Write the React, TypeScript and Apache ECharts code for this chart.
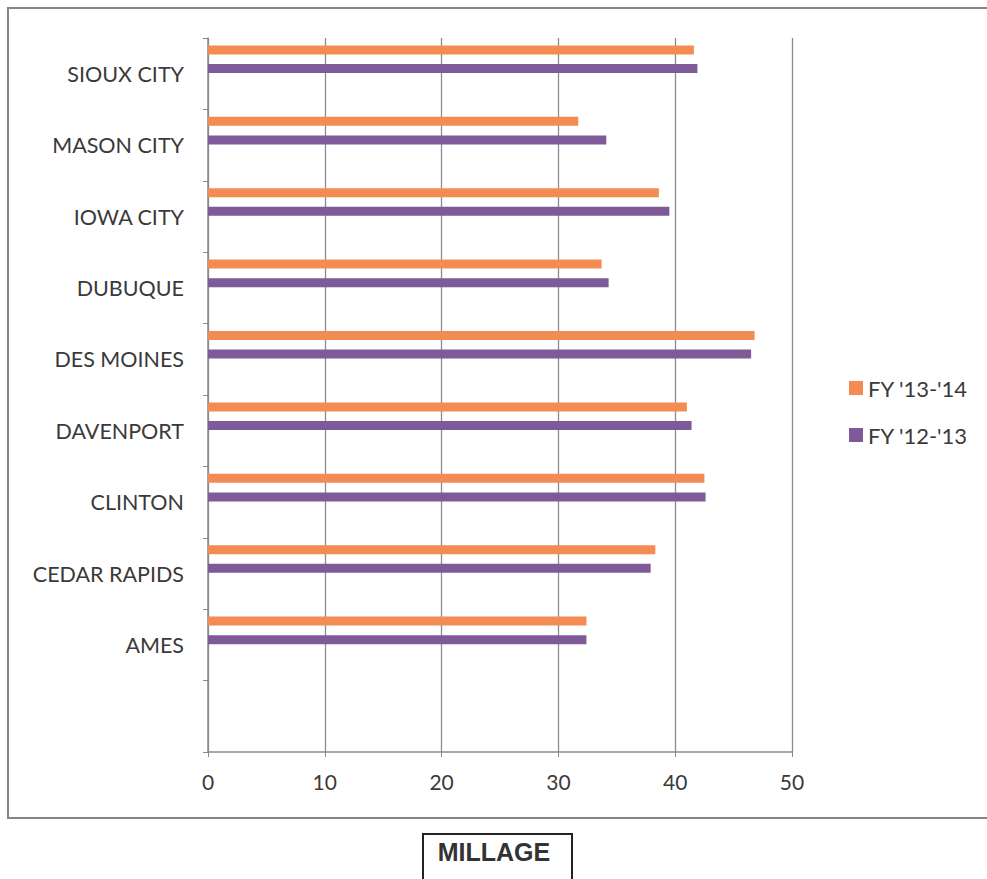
import React, { useEffect, useRef } from "react";
import * as echarts from "echarts";

const categories = ["", "AMES", "CEDAR RAPIDS", "CLINTON", "DAVENPORT", "DES MOINES", "DUBUQUE", "IOWA CITY", "MASON CITY", "SIOUX CITY"];
const fy1314 = [null, 32.4, 38.3, 42.5, 41.0, 46.8, 33.7, 38.6, 31.7, 41.6];
const fy1213 = [null, 32.4, 37.9, 42.6, 41.4, 46.5, 34.3, 39.5, 34.1, 41.9];
const seriesNames = ["FY '13-'14", "FY '12-'13"];
const axisTitle = "MILLAGE";

const ORANGE = "#F38B52";
const PURPLE = "#7E5A98";
const FONT = "Lato";

export default function App() {
  const ref = useRef<HTMLDivElement>(null);
  useEffect(() => {
    if (!ref.current) return;
    const chart = echarts.init(ref.current, null, { renderer: "svg" });
    chart.setOption({
      animation: false,
      backgroundColor: "#ffffff",
      legend: {
        data: seriesNames,
        orient: "vertical",
        left: 844,
        top: 372,
        itemWidth: 14,
        itemHeight: 14,
        itemGap: 25,
        icon: "rect",
        textStyle: { fontFamily: FONT, fontSize: 22, color: "#3a3a3a" },
      },
      grid: [
        { left: 208, right: 195, top: 38, bottom: 127 },
        { left: 208, right: 195, top: 23.5, bottom: 141.5 },
      ],
      xAxis: [
        {
          type: "value",
          gridIndex: 0,
          min: 0,
          max: 50,
          interval: 10,
          axisLine: { show: true, lineStyle: { color: "#8a8a8a", width: 1.5 } },
          axisTick: { show: true, length: 5, lineStyle: { color: "#8a8a8a" } },
          splitLine: { show: true, lineStyle: { color: "#8e8896", width: 1.3 } },
          axisLabel: { margin: 19, fontFamily: FONT, fontSize: 21, color: "#3a3a3a" },
        },
        {
          type: "value",
          gridIndex: 1,
          min: 0,
          max: 50,
          interval: 10,
          show: false,
        },
      ],
      yAxis: [
        {
          type: "category",
          gridIndex: 0,
          data: categories,
          axisLine: { show: true, lineStyle: { color: "#8a8a8a", width: 1.5 } },
          axisTick: { show: true, length: 5, lineStyle: { color: "#8a8a8a" } },
          axisLabel: {
            margin: 24,
            fontFamily: FONT,
            fontSize: 21.5,
            color: "#3a3a3a",
            padding: [0, 0, 5, 0],
          },
        },
        {
          type: "category",
          gridIndex: 1,
          data: categories,
          show: false,
        },
      ],
      series: [
        {
          name: seriesNames[0],
          type: "bar",
          xAxisIndex: 1,
          yAxisIndex: 1,
          data: fy1314,
          barWidth: 9,
          barGap: "107%",
          itemStyle: { color: ORANGE },
        },
        {
          name: seriesNames[1],
          type: "bar",
          xAxisIndex: 1,
          yAxisIndex: 1,
          data: fy1213,
          barWidth: 9,
          barGap: "107%",
          itemStyle: { color: PURPLE },
        },
      ],
      graphic: [
        {
          type: "rect",
          shape: { x: 8, y: 8, width: 1000, height: 810 },
          style: { fill: "none", stroke: "#858585", lineWidth: 2 },
          silent: true,
        },
        {
          type: "rect",
          shape: { x: 423, y: 834, width: 149, height: 70 },
          style: { fill: "#ffffff", stroke: "#222222", lineWidth: 2 },
          silent: true,
        },
        {
          type: "text",
          x: 494,
          y: 852,
          style: {
            text: axisTitle,
            fontFamily: "Liberation Sans",
            fontWeight: "bold",
            fontSize: 25,
            fill: "#333333",
            align: "center",
            verticalAlign: "middle",
          },
          silent: true,
        },
      ],
    });
    return () => chart.dispose();
  }, []);
  return <div ref={ref} style={{ position: "absolute", left: 0, top: 0, width: 987, height: 879 }} />;
}
